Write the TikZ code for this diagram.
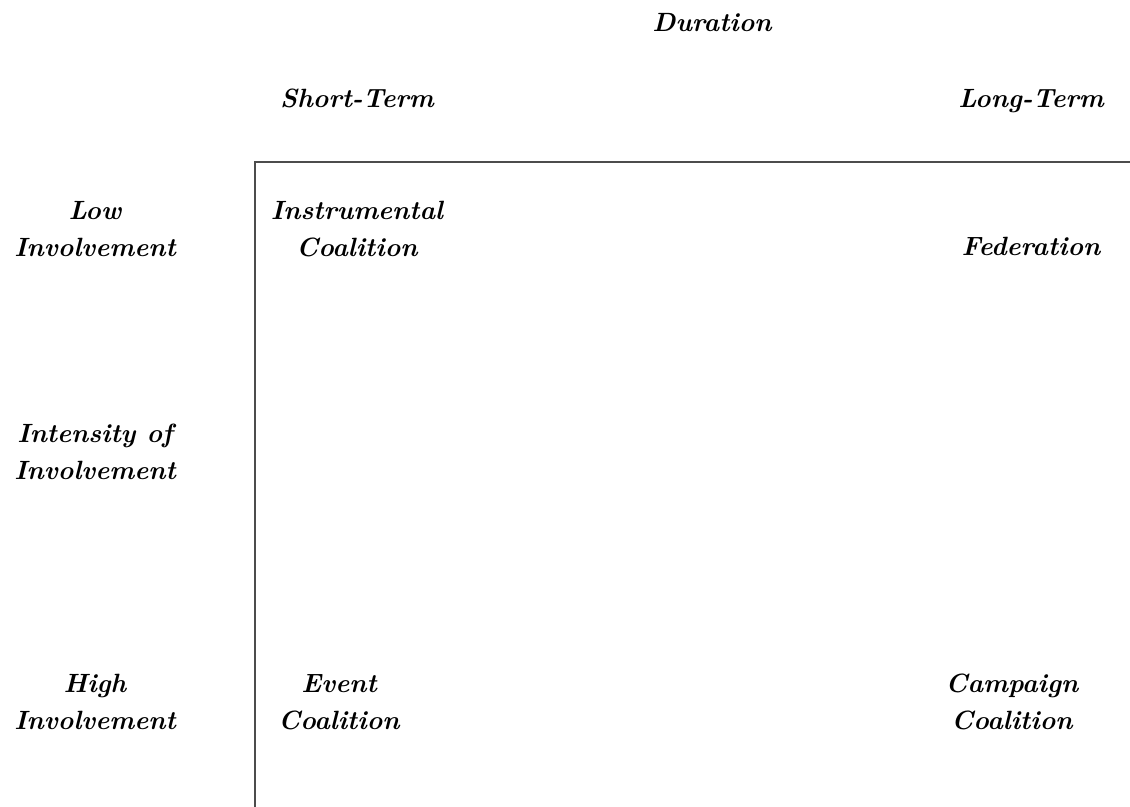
\documentclass[tikz,border=0pt]{standalone}
\begin{document}
\begin{tikzpicture}[x=0.5pt,y=-0.5pt,
  lbl/.style={align=center,inner sep=0pt,font=\fontsize{13.2}{18.5}\selectfont\bfseries\itshape},
  one/.style={lbl,text height=9pt,text depth=3pt},
  frame/.style={draw=black!70,line width=0.8pt}]
\useasboundingbox (0,0) rectangle (1130,807);
\node[one] (dur) at (712,26) {Duration};
\node[one] (st) at (357,102) {Short-Term};
\node[one] (lt) at (1031,102) {Long-Term};
\node[lbl] (low) at (95,229) {Low\\Involvement};
\node[lbl] (inst) at (357,229) {Instrumental\\Coalition};
\node[one] (fed) at (1031,250) {Federation};
\node[lbl] (int) at (95,452) {Intensity of\\Involvement};
\node[lbl] (high) at (95,702) {High\\Involvement};
\node[lbl] (ev) at (339,702) {Event\\Coalition};
\node[lbl] (camp) at (1012,702) {Campaign\\Coalition};
\coordinate (bl) at (255,812);
\coordinate (tl) at (255,162);
\coordinate (tr) at (1135,162);
\draw[frame] (bl) -- (tl) -- (tr);
\end{tikzpicture}
\end{document}
